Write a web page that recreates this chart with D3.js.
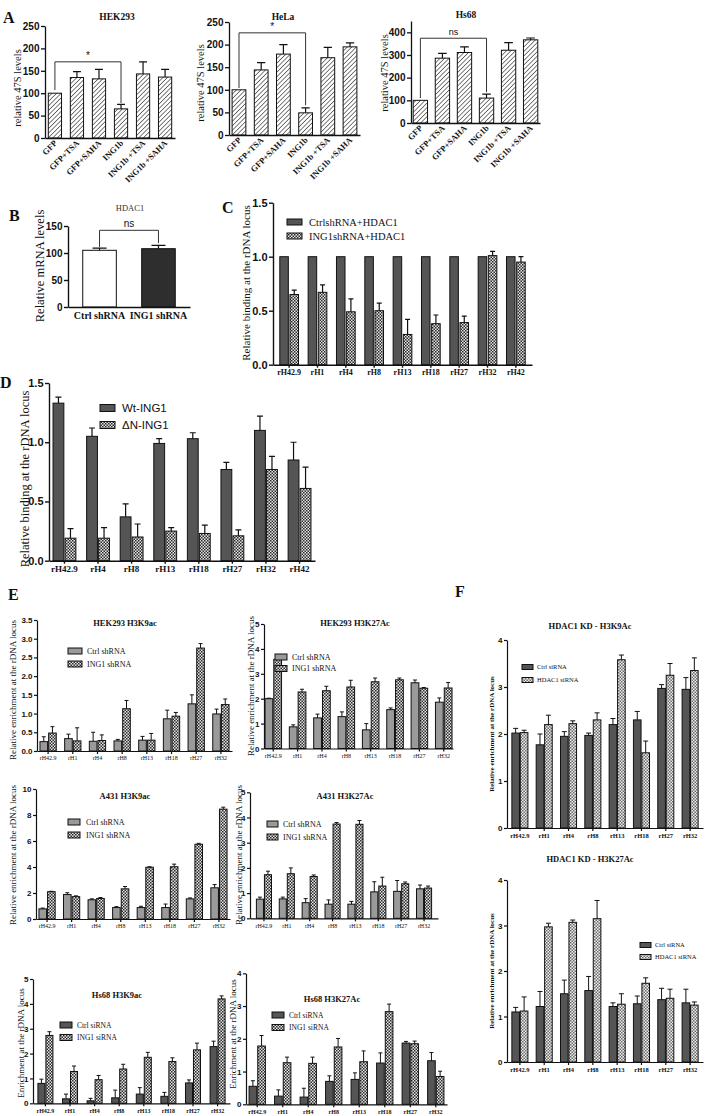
<!DOCTYPE html>
<html>
<head>
<meta charset="utf-8">
<script src="https://cdn.jsdelivr.net/npm/d3@7"></script>
<style>body{margin:0;background:#fff}</style>
</head>
<body>
<script>
// ---- panel A : relative 47S levels
const aCats = ["GFP", "GFP+TSA", "GFP+SAHA", "ING1b", "ING1b +TSA", "ING1b +SAHA"];
const aHek293 = [100, 135, 132, 65, 143, 136];
const aHek293Err = [0, 13, 21, 10, 27, 17];
const aHela = [100, 144, 179, 49, 171, 195];
const aHelaErr = [0, 16, 21, 11, 23, 9];
const aHs68 = [100, 286, 311, 110, 321, 367];
const aHs68Err = [0, 21, 25, 17, 34, 8];

// ---- panel B : HDAC1 mRNA
const bCats = ["Ctrl shRNA", "ING1 shRNA"];
const bMean = [105, 108];
const bErr = [4, 6];

// ---- panel C : HDAC1 binding
const cSites = ["rH42.9", "rH1", "rH4", "rH8", "rH13", "rH18", "rH27", "rH32", "rH42"];
const cCtrl = [1, 1, 1, 1, 1, 1, 1, 1, 1];
const cIng1 = [0.65, 0.67, 0.49, 0.50, 0.28, 0.38, 0.39, 1.01, 0.95];
const cIng1Err = [0.04, 0.07, 0.12, 0.07, 0.14, 0.08, 0.06, 0.04, 0.05];

// ---- panel D : Wt vs dN ING1 binding
const dSites = ["rH42.9", "rH4", "rH8", "rH13", "rH18", "rH27", "rH32", "rH42"];
const dWt = [1.33, 1.05, 0.37, 0.99, 1.03, 0.77, 1.10, 0.85];
const dWtErr = [0.05, 0.07, 0.11, 0.04, 0.05, 0.06, 0.12, 0.15];
const dDn = [0.19, 0.19, 0.20, 0.25, 0.23, 0.21, 0.77, 0.61];
const dDnErr = [0.08, 0.09, 0.11, 0.03, 0.07, 0.05, 0.11, 0.18];

// ---- panel E : histone marks after ING1 knockdown
const eSites = ["rH42.9", "rH1", "rH4", "rH8", "rH13", "rH18", "rH27", "rH32"];
const e293K9Ctrl = [0.25, 0.33, 0.26, 0.27, 0.29, 0.86, 1.26, 0.99];
const e293K9CtrlErr = [0.13, 0.12, 0.24, 0.04, 0.10, 0.23, 0.24, 0.13];
const e293K9Ing1 = [0.48, 0.27, 0.28, 1.13, 0.29, 0.93, 2.75, 1.24];
const e293K9Ing1Err = [0.17, 0.35, 0.15, 0.22, 0.18, 0.10, 0.12, 0.15];
const e293K27Ctrl = [2.0, 0.87, 1.23, 1.28, 0.75, 1.56, 2.64, 1.86];
const e293K27CtrlErr = [0.02, 0.08, 0.15, 0.19, 0.25, 0.07, 0.11, 0.17];
const e293K27Ing1 = [3.58, 2.27, 2.32, 2.47, 2.68, 2.76, 2.42, 2.43];
const e293K27Ing1Err = [0.02, 0.11, 0.18, 0.27, 0.15, 0.07, 0.03, 0.22];
const eA431K9Ctrl = [0.78, 1.88, 1.48, 0.88, 0.88, 0.88, 1.55, 2.4];
const eA431K9CtrlErr = [0.06, 0.14, 0.07, 0.07, 0.10, 0.27, 0.07, 0.25];
const eA431K9Ing1 = [2.1, 1.72, 1.58, 2.32, 3.98, 4.02, 5.75, 8.45];
const eA431K9Ing1Err = [0.03, 0.06, 0.07, 0.18, 0.04, 0.20, 0.07, 0.15];
const eA431K27Ctrl = [0.76, 0.77, 0.62, 0.56, 0.56, 1.05, 1.07, 1.17];
const eA431K27CtrlErr = [0.08, 0.07, 0.16, 0.17, 0.11, 0.40, 0.43, 0.15];
const eA431K27Ing1 = [1.73, 1.77, 1.66, 3.74, 3.73, 1.28, 1.37, 1.2];
const eA431K27Ing1Err = [0.14, 0.23, 0.06, 0.06, 0.15, 0.35, 0.07, 0.08];
const eHs68K9Ctrl = [0.8, 0.18, 0.1, 0.22, 0.37, 0.28, 0.82, 2.28];
const eHs68K9CtrlErr = [0.17, 0.19, 0.10, 0.31, 0.26, 0.16, 0.12, 0.22];
const eHs68K9Ing1 = [2.73, 1.28, 0.95, 1.38, 1.85, 1.68, 2.15, 4.2];
const eHs68K9Ing1Err = [0.15, 0.22, 0.17, 0.19, 0.20, 0.15, 0.27, 0.12];
const eHs68K27Ctrl = [0.55, 0.25, 0.22, 0.7, 0.76, 1.26, 1.87, 1.33];
const eHs68K27CtrlErr = [0.17, 0.19, 0.27, 0.17, 0.20, 0.31, 0.05, 0.25];
const eHs68K27Ing1 = [1.78, 1.27, 1.25, 1.75, 1.3, 2.83, 1.85, 0.85];
const eHs68K27Ing1Err = [0.32, 0.17, 0.19, 0.26, 0.33, 0.23, 0.08, 0.16];

// ---- panel F : HDAC1 knockdown
const fK9Ctrl = [2.02, 1.77, 1.95, 1.97, 2.2, 2.3, 2.97, 2.95];
const fK9CtrlErr = [0.10, 0.23, 0.10, 0.05, 0.13, 0.18, 0.08, 0.25];
const fK9Hdac = [2.03, 2.2, 2.22, 2.3, 3.58, 1.6, 3.25, 3.35];
const fK9HdacErr = [0.05, 0.20, 0.06, 0.15, 0.10, 0.25, 0.25, 0.27];
const fK27Ctrl = [1.1, 1.22, 1.5, 1.57, 1.22, 1.28, 1.37, 1.3];
const fK27CtrlErr = [0.10, 0.33, 0.30, 0.31, 0.08, 0.17, 0.25, 0.30];
const fK27Hdac = [1.12, 2.97, 3.07, 3.15, 1.27, 1.73, 1.4, 1.25];
const fK27HdacErr = [0.31, 0.08, 0.05, 0.40, 0.23, 0.12, 0.20, 0.07];

const SANS = "'Liberation Sans', Arial, sans-serif";
const SERIF = "'Liberation Serif', 'Times New Roman', serif";
const INK = "#111";

var svg = d3.select("body").append("svg")
  .attr("width", 728).attr("height", 1116)
  .style("background", "#fff");

var defs = svg.append("defs");
var hatch = defs.append("pattern").attr("id", "hatch")
  .attr("width", 3.2).attr("height", 3.2)
  .attr("patternUnits", "userSpaceOnUse")
  .attr("patternTransform", "rotate(45)");
hatch.append("rect").attr("width", 3.2).attr("height", 3.2).attr("fill", "#fff");
hatch.append("line").attr("x1", 0).attr("y1", 0).attr("x2", 0).attr("y2", 3.2)
  .attr("stroke", INK).attr("stroke-width", 1.1);

function checker(id, light, dark, s) {
  var p = defs.append("pattern").attr("id", id)
    .attr("width", 2 * s).attr("height", 2 * s)
    .attr("patternUnits", "userSpaceOnUse");
  p.append("rect").attr("width", 2 * s).attr("height", 2 * s).attr("fill", light);
  p.append("rect").attr("width", s).attr("height", s).attr("fill", dark);
  p.append("rect").attr("x", s).attr("y", s).attr("width", s).attr("height", s).attr("fill", dark);
}
checker("chk", "#e4e4e4", "#2b2b2b", 1.5);
checker("chkLight", "#eeeeee", "#6a6a6a", 1.5);

function panelLetter(t, x, y) {
  svg.append("text").attr("x", x).attr("y", y).text(t)
    .attr("font-family", SERIF).attr("font-weight", "bold")
    .attr("font-size", 16).attr("fill", INK);
}

// generic grouped bar chart with upward error bars
function barChart(o) {
  var g = svg.append("g");
  var y = d3.scaleLinear().domain([0, o.max]).range([o.y0, o.yTop]);
  var x = d3.scaleBand().domain(o.cats).range([o.x0, o.x1])
    .paddingInner(o.pin).paddingOuter(o.pout);
  var xs = d3.scaleBand().domain(d3.range(o.series.length))
    .range([0, x.bandwidth()]).paddingInner(o.sub || 0);
  var cap = o.cap || xs.bandwidth() * 0.6;

  o.series.forEach(function(s, k) {
    g.append("g").selectAll("rect").data(o.cats).join("rect")
      .attr("x", function(c) { return x(c) + xs(k); })
      .attr("width", xs.bandwidth())
      .attr("y", function(c, i) { return y(s.mean[i]); })
      .attr("height", function(c, i) { return o.y0 - y(s.mean[i]); })
      .attr("fill", function(c, i) { return Array.isArray(s.fill) ? s.fill[i] : s.fill; })
      .attr("stroke", INK).attr("stroke-width", o.bw || 1);

    var eData = o.cats.map(function(c, i) {
      return { c: c, m: s.mean[i], e: s.err ? s.err[i] : 0 };
    }).filter(function(d) { return d.e > 0; });
    g.append("g").selectAll("path").data(eData).join("path")
      .attr("d", function(d) {
        var cx = x(d.c) + xs(k) + xs.bandwidth() / 2;
        var t = y(d.m + d.e);
        return "M" + cx + "," + y(d.m) + "V" + t + "M" + (cx - cap / 2) + "," + t + "H" + (cx + cap / 2);
      })
      .attr("fill", "none").attr("stroke", INK).attr("stroke-width", o.ew || 1.2);
  });

  var ya = g.append("g").attr("transform", "translate(" + o.x0 + ",0)")
    .call(d3.axisLeft(y).tickValues(o.ticks).tickFormat(d3.format(o.fmt))
      .tickSize(o.tk || 4).tickSizeOuter(0).tickPadding(1.5));
  var xa = g.append("g").attr("transform", "translate(0," + o.y0 + ")")
    .call(d3.axisBottom(x).tickSize(o.xtk === undefined ? 3 : o.xtk)
      .tickSizeOuter(0).tickPadding(o.xpad || 2));
  [ya, xa].forEach(function(a) {
    a.select(".domain").attr("stroke", INK).attr("stroke-width", o.aw || 1.4);
    a.selectAll(".tick line").attr("stroke", INK).attr("stroke-width", o.aw || 1.4);
  });
  ya.selectAll("text").attr("font-family", SANS).attr("font-weight", "bold")
    .attr("font-size", o.yfs).attr("fill", INK);
  xa.selectAll("text").attr("font-family", SERIF)
    .attr("font-weight", o.xbold === false ? "normal" : "bold")
    .attr("font-size", o.xfs).attr("fill", INK);
  if (o.rotate) {
    xa.selectAll("text").attr("text-anchor", "end")
      .attr("x", -2).attr("y", 3).attr("dy", "0.35em")
      .attr("transform", "rotate(-45)");
  }

  if (o.title) {
    g.append("text").attr("x", o.title[1]).attr("y", o.title[2])
      .attr("text-anchor", "middle").text(o.title[0])
      .attr("font-family", SERIF).attr("font-weight", o.titleBold === false ? "normal" : "bold")
      .attr("font-size", o.title[3]).attr("fill", o.titleColor || INK);
  }
  if (o.ylabel) {
    g.append("text")
      .attr("transform", "translate(" + o.ylabel[1] + "," + o.ylabel[2] + ") rotate(-90)")
      .attr("text-anchor", "middle").attr("dy", "0.35em").text(o.ylabel[0])
      .attr("font-family", SERIF).attr("font-weight", o.ylBold ? "bold" : "normal")
      .attr("font-size", o.ylabel[3]).attr("fill", INK);
  }
  if (o.legend) {
    var L = o.legend;
    var lg = g.append("g");
    o.series.forEach(function(s, k) {
      var yy = L.y + k * L.dy;
      lg.append("rect").attr("x", L.x).attr("y", yy - L.sh / 2)
        .attr("width", L.sw).attr("height", L.sh)
        .attr("fill", s.fill).attr("stroke", INK).attr("stroke-width", 1);
      lg.append("text").attr("x", L.x + L.sw + L.gap).attr("y", yy)
        .attr("dy", "0.35em").text(s.name)
        .attr("font-family", L.font || SERIF).attr("font-size", L.fs).attr("fill", INK);
    });
  }
  return { x: x, y: y, xs: xs, g: g };
}

// bracket with significance label
function bracket(ch, c1, c2, level, leg1, leg2, label, fs) {
  var x1 = ch.x(c1) + ch.x.bandwidth() / 2;
  var x2 = ch.x(c2) + ch.x.bandwidth() / 2;
  var yl = ch.y(level);
  ch.g.append("path")
    .attr("d", "M" + x1 + "," + ch.y(leg1) + "V" + yl + "H" + x2 + "V" + ch.y(leg2))
    .attr("fill", "none").attr("stroke", "#333").attr("stroke-width", 1);
  ch.g.append("text").attr("x", (x1 + x2) / 2).attr("y", yl - 3)
    .attr("text-anchor", "middle").text(label)
    .attr("font-family", SANS).attr("font-size", fs).attr("fill", INK);
}

// ---------- A
panelLetter("A", 3, 23);
var aOpts = { cats: aCats, fmt: "d", yfs: 10, xfs: 8.5, rotate: true, xtk: 0, aw: 1.3 };
var a1 = barChart(Object.assign({}, aOpts, {
  x0: 45, x1: 175, y0: 138, yTop: 26, max: 250, ticks: [0, 50, 100, 150, 200, 250],
  pin: 0.4, pout: 0.15,
  series: [{ mean: aHek293, err: aHek293Err, fill: "url(#hatch)" }],
  title: ["HEK293", 117, 20, 9.5], ylabel: ["relative 47S levels", 17, 88, 10.5]
}));
bracket(a1, "GFP", "ING1b", 170, 107, 78, "*", 10);
var a2 = barChart(Object.assign({}, aOpts, {
  x0: 229, x1: 360, y0: 135, yTop: 22, max: 250, ticks: [0, 50, 100, 150, 200, 250],
  pin: 0.38, pout: 0.14,
  series: [{ mean: aHela, err: aHelaErr, fill: "url(#hatch)" }],
  title: ["HeLa", 283, 20, 9.5], ylabel: ["relative 47S levels", 200, 83, 10.5]
}));
bracket(a2, "GFP", "ING1b", 226, 104, 66, "*", 10);
var a3 = barChart(Object.assign({}, aOpts, {
  x0: 411, x1: 540, y0: 123, yTop: 21, max: 450, ticks: [0, 100, 200, 300, 400],
  pin: 0.35, pout: 0.1,
  series: [{ mean: aHs68, err: aHs68Err, fill: "url(#hatch)" }],
  title: ["Hs68", 466, 18, 9.5], ylabel: ["relative 47S levels", 384, 73, 10.5]
}));
bracket(a3, "GFP", "ING1b", 374, 110, 136, "ns", 9);

// ---------- B
panelLetter("B", 9, 221);
var b1 = barChart({
  cats: bCats, x0: 68, x1: 190, y0: 307, yTop: 226, max: 150, ticks: [0, 50, 100, 150],
  fmt: "d", pin: 0.43, pout: 0.25, yfs: 10, xfs: 10, xtk: 0, xpad: 5, cap: 14,
  series: [{ mean: bMean, err: bErr, fill: ["#fff", "#2e2e2e"] }],
  title: ["HDAC1", 130, 211, 8.5], titleBold: false, titleColor: "#333",
  ylabel: ["Relative mRNA levels", 40, 266, 12.5]
});
bracket(b1, "Ctrl shRNA", "ING1 shRNA", 142, 111, 118, "ns", 10);

// ---------- C
panelLetter("C", 222, 213);
barChart({
  cats: cSites, x0: 273, x1: 532, y0: 364.7, yTop: 202.7, max: 1.5, ticks: [0, 0.5, 1, 1.5],
  fmt: ".1f", pin: 0.34, pout: 0.24, sub: 0.16, yfs: 11, xfs: 8, cap: 5,
  series: [
    { name: "CtrlshRNA+HDAC1", mean: cCtrl, err: null, fill: "#555" },
    { name: "ING1shRNA+HDAC1", mean: cIng1, err: cIng1Err, fill: "url(#chk)" }
  ],
  ylabel: ["Relative binding at the rDNA locus", 246, 283, 11],
  legend: { x: 287, y: 222, dy: 14, sw: 15, sh: 6, gap: 7, fs: 10.5 }
});

// ---------- D
panelLetter("D", 0, 388);
barChart({
  cats: dSites, x0: 49, x1: 315, y0: 560.7, yTop: 383, max: 1.5, ticks: [0, 0.5, 1, 1.5],
  fmt: ".1f", pin: 0.32, pout: 0.12, sub: 0.1, yfs: 11, xfs: 9, cap: 6,
  series: [
    { name: "Wt-ING1", mean: dWt, err: dWtErr, fill: "#555" },
    { name: "\u0394N-ING1", mean: dDn, err: dDnErr, fill: "url(#chk)" }
  ],
  ylabel: ["Relative binding at the rDNA locus", 25, 479, 12.5],
  legend: { x: 100, y: 408, dy: 17, sw: 15, sh: 7, gap: 7, fs: 11.5, font: SANS }
});

// ---------- E
panelLetter("E", 8, 600);
var eOpts = { cats: eSites, yfs: 8, xfs: 6, xbold: false, cap: 4, sub: 0.12, tk: 3, aw: 1.2, ew: 1 };
var eYl = "Relative enrichment at the rDNA locus";
barChart(Object.assign({}, eOpts, {
  x0: 37, x1: 232, y0: 751, yTop: 620, max: 3.5, ticks: d3.range(0, 3.51, 0.5), fmt: ".1f",
  pin: 0.34, pout: 0.12,
  series: [
    { name: "Ctrl shRNA", mean: e293K9Ctrl, err: e293K9CtrlErr, fill: "#9a9a9a" },
    { name: "ING1 shRNA", mean: e293K9Ing1, err: e293K9Ing1Err, fill: "url(#chk)" }
  ],
  title: ["HEK293 H3K9ac", 125, 626, 8.5], ylabel: [eYl, 13, 690, 9],
  legend: { x: 68, y: 651, dy: 13, sw: 14, sh: 6, gap: 5, fs: 8 }
}));
barChart(Object.assign({}, eOpts, {
  x0: 264, x1: 453, y0: 748.5, yTop: 624, max: 5, ticks: [0, 1, 2, 3, 4, 5], fmt: "d",
  pin: 0.32, pout: 0.04,
  series: [
    { name: "Ctrl shRNA", mean: e293K27Ctrl, err: e293K27CtrlErr, fill: "#9a9a9a" },
    { name: "ING1 shRNA", mean: e293K27Ing1, err: e293K27Ing1Err, fill: "url(#chk)" }
  ],
  title: ["HEK293 H3K27Ac", 355, 626, 8.5], ylabel: [eYl, 251, 686, 9],
  legend: { x: 275, y: 657, dy: 11.5, sw: 12, sh: 6, gap: 5, fs: 8 }
}));
barChart(Object.assign({}, eOpts, {
  x0: 36, x1: 230, y0: 919, yTop: 789, max: 10, ticks: [0, 2, 4, 6, 8, 10], fmt: "d",
  pin: 0.34, pout: 0.12,
  series: [
    { name: "Ctrl shRNA", mean: eA431K9Ctrl, err: eA431K9CtrlErr, fill: "#9a9a9a" },
    { name: "ING1 shRNA", mean: eA431K9Ing1, err: eA431K9Ing1Err, fill: "url(#chk)" }
  ],
  title: ["A431 H3K9ac", 125, 799, 8.5], ylabel: [eYl, 13, 855, 9],
  legend: { x: 68, y: 822, dy: 13, sw: 12, sh: 6, gap: 6, fs: 8 }
}));
barChart(Object.assign({}, eOpts, {
  x0: 250, x1: 438, y0: 918.3, yTop: 792.3, max: 5, ticks: [0, 1, 2, 3, 4, 5], fmt: "d",
  pin: 0.34, pout: 0.28,
  series: [
    { name: "Ctrl shRNA", mean: eA431K27Ctrl, err: eA431K27CtrlErr, fill: "#9a9a9a" },
    { name: "ING1 shRNA", mean: eA431K27Ing1, err: eA431K27Ing1Err, fill: "url(#chk)" }
  ],
  title: ["A431 H3K27Ac", 345, 799, 8.5], ylabel: [eYl, 239, 855, 9],
  legend: { x: 267, y: 824, dy: 13, sw: 11, sh: 6, gap: 5, fs: 8 }
}));
barChart(Object.assign({}, eOpts, {
  x0: 33, x1: 230, y0: 1103.3, yTop: 979, max: 5, ticks: [0, 1, 2, 3, 4, 5], fmt: "d",
  pin: 0.39, pout: 0.2, xbold: true, xfs: 6,
  series: [
    { name: "Ctrl siRNA", mean: eHs68K9Ctrl, err: eHs68K9CtrlErr, fill: "#555" },
    { name: "ING1 siRNA", mean: eHs68K9Ing1, err: eHs68K9Ing1Err, fill: "url(#chk)" }
  ],
  title: ["Hs68 H3K9ac", 117, 998, 8.5], ylabel: ["Enrichment at the rDNA locus", 21, 1043, 9],
  legend: { x: 60, y: 1025, dy: 12.5, sw: 12, sh: 6, gap: 5, fs: 7.5 }
}));
barChart(Object.assign({}, eOpts, {
  x0: 246, x1: 447, y0: 1104.3, yTop: 973.3, max: 4, ticks: [0, 1, 2, 3, 4], fmt: "d",
  pin: 0.36, pout: 0.12, xbold: true, xfs: 6,
  series: [
    { name: "Ctrl siRNA", mean: eHs68K27Ctrl, err: eHs68K27CtrlErr, fill: "#555" },
    { name: "ING1 siRNA", mean: eHs68K27Ing1, err: eHs68K27Ing1Err, fill: "url(#chk)" }
  ],
  title: ["Hs68 H3K27Ac", 332, 1002, 8.5], ylabel: ["Enrichment at the rDNA locus", 233, 1034, 9],
  legend: { x: 272, y: 1015, dy: 12.5, sw: 12, sh: 6, gap: 5, fs: 7.5 }
}));

// ---------- F
panelLetter("F", 455, 597);
var fOpts = { cats: eSites, yfs: 8, xfs: 6.5, cap: 5, sub: 0.1, tk: 3, aw: 1.2, ew: 1,
  x0: 507, x1: 703, max: 4, ticks: [0, 1, 2, 3, 4], fmt: "d", pin: 0.34, pout: 0.2, ylBold: true };
barChart(Object.assign({}, fOpts, {
  y0: 828, yTop: 640,
  series: [
    { name: "Ctrl siRNA", mean: fK9Ctrl, err: fK9CtrlErr, fill: "#555" },
    { name: "HDAC1 siRNA", mean: fK9Hdac, err: fK9HdacErr, fill: "url(#chkLight)" }
  ],
  title: ["HDAC1 KD - H3K9Ac", 590, 629, 8.5], ylabel: [eYl, 492, 734, 7],
  legend: { x: 522, y: 667, dy: 13, sw: 11, sh: 5, gap: 4, fs: 6.5 }
}));
barChart(Object.assign({}, fOpts, {
  y0: 1062, yTop: 880,
  series: [
    { name: "Ctrl siRNA", mean: fK27Ctrl, err: fK27CtrlErr, fill: "#555" },
    { name: "HDAC1 siRNA", mean: fK27Hdac, err: fK27HdacErr, fill: "url(#chkLight)" }
  ],
  title: ["HDAC1 KD - H3K27Ac", 590, 862, 8.5], ylabel: [eYl, 492, 971, 7],
  legend: { x: 640, y: 945, dy: 12, sw: 11, sh: 5, gap: 4, fs: 6.5 }
}));
</script>
</body>
</html>
